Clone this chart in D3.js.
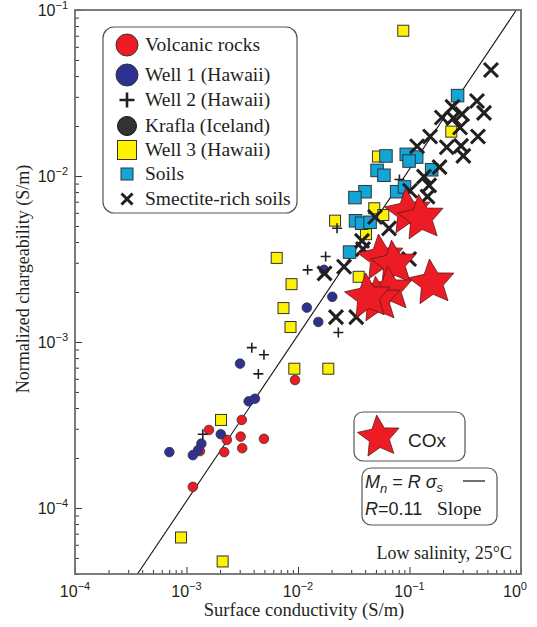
<!DOCTYPE html>
<html><head><meta charset="utf-8">
<script src="https://cdn.jsdelivr.net/npm/d3@7"></script>
<style>body{margin:0;background:#fff}</style>
</head><body>
<svg id="c" width="537" height="627"></svg>
<script>
// ---------- DATA: [surface conductivity (S/m), normalized chargeability (S/m)] ----------
const volcanicRocks = [[0.0094,5.9e-4],[3.13e-3,3.39e-4],[1.59e-3,2.95e-4],[2.30e-3,2.57e-4],[3.06e-3,2.69e-4],
  [4.95e-3,2.61e-4],[2.18e-3,2.17e-4],[3.16e-3,2.29e-4],[1.32e-3,2.20e-4],[1.14e-3,1.34e-4]];
const well1 = [[3.02e-3,7.40e-4],[3.61e-3,4.39e-4],[4.11e-3,4.55e-4],[2.03e-3,2.78e-4],[1.36e-3,2.44e-4],
  [1.27e-3,2.23e-4],[1.14e-3,2.08e-4],[7.02e-4,2.17e-4],[1.52e-2,1.32e-3],[2.03e-2,1.87e-3],
  [1.20e-2,1.61e-3],[1.71e-2,2.72e-3]];
const well2 = [[3.85e-3,9.24e-4],[4.95e-3,8.38e-4],[4.41e-3,6.42e-4],[1.40e-3,2.78e-4],[2.30e-2,1.14e-3],
  [1.77e-2,3.27e-3],[1.22e-2,2.72e-3],[2.24e-2,4.84e-3],[8.12e-2,9.52e-3]];
const krafla = [];
const well3 = [[8.79e-2,7.50e-2],[0.237,1.85e-2],[5.21e-2,1.31e-2],[4.83e-2,6.39e-3],[5.82e-2,5.82e-3],
  [2.15e-2,5.38e-3],[4.07e-2,4.46e-3],[6.44e-3,3.21e-3],[3.50e-2,2.47e-3],[8.75e-3,2.23e-3],
  [7.41e-3,1.60e-3],[8.57e-3,1.23e-3],[9.27e-3,6.90e-4],[1.87e-2,6.90e-4],[2.04e-3,3.39e-4],
  [8.93e-4,6.64e-5],[2.11e-3,4.76e-5]];
const soils = [[0.270,3.05e-2],[6.15e-2,1.32e-2],[9.35e-2,1.35e-2],[0.116,1.30e-2],[9.91e-2,1.23e-2],
  [5.12e-2,1.08e-2],[5.90e-2,1.01e-2],[0.158,1.09e-2],[3.99e-2,8.04e-3],[3.24e-2,7.41e-3],
  [7.67e-2,8.04e-3],[9.02e-2,8.59e-3],[3.28e-2,5.37e-3],[3.72e-2,5.19e-3],[4.43e-2,5.26e-3],
  [2.90e-2,3.48e-3]];
const smectiteSoils = [[0.538,4.35e-2],[0.403,2.83e-2],[0.466,2.40e-2],[0.243,2.61e-2],[0.195,2.25e-2],
  [0.247,2.23e-2],[0.296,2.36e-2],[0.284,1.96e-2],[0.153,1.73e-2],[0.117,1.51e-2],[0.216,1.49e-2],
  [0.290,1.52e-2],[0.304,1.32e-2],[0.411,1.73e-2],[0.186,1.13e-2],[0.135,9.91e-3],[0.150,8.77e-3],
  [0.145,7.50e-3],[0.101,8.15e-3],[4.91e-2,5.66e-3],[6.55e-2,4.84e-3],[3.75e-2,4.06e-3],
  [3.83e-2,3.63e-3],[2.59e-2,2.84e-3],[1.73e-2,2.59e-3],[9.91e-2,3.16e-3],[2.19e-2,1.41e-3],
  [3.33e-2,1.41e-3]];
const cox = [[9.70e-2,6.07e-3],[0.127,5.58e-3],[5.55e-2,3.21e-3],[7.26e-2,2.95e-3],[0.159,2.27e-3],
  [6.68e-2,2.06e-3],[5.21e-2,1.79e-3],[4.25e-2,1.87e-3]];
const fitR = 0.11;
const legendLabels = ["Volcanic rocks","Well 1 (Hawaii)","Well 2 (Hawaii)","Krafla (Iceland)","Well 3 (Hawaii)","Soils","Smectite-rich soils"];
const xTickValues = [1e-4,1e-3,1e-2,1e-1,1];
const xTickExps = ["\u22124","\u22123","\u22122","\u22121","0"];
const yTickValues = [1e-4,1e-3,1e-2,1e-1];
const yTickExps = ["\u22124","\u22123","\u22122","\u22121"];
const xTitle = "Surface conductivity (S/m)";
const yTitle = "Normalized chargeability (S/m)";

// ---------- COLOURS ----------
const RED="#ed1c24", NAVY="#2e3192", YEL="#fff200", CYAN="#12a6d8", DARK="#333", INK="#231f20";
const SERIF="'Liberation Serif','Times New Roman',serif", SANS="'Liberation Sans',Arial,sans-serif";

const svg = d3.select("#c");
const L=75, R=521, T=10, B=574;
const x = d3.scaleLog().domain([1e-4,1]).range([L,R]);
const y = d3.scaleLog().domain([4e-5,0.1]).range([B,T]);
const isPow = v => Math.abs(Math.log10(v)-Math.round(Math.log10(v)))<1e-6;

// ---------- AXES ----------
const xMinor = x.ticks().filter(v=>!isPow(v));
const yMinor = y.ticks().filter(v=>!isPow(v));
function styleAxis(g){ g.select(".domain").remove(); g.selectAll("line").attr("stroke",DARK).attr("stroke-width",1); g.selectAll("text").remove(); }
svg.append("g").attr("transform",`translate(0,${B})`).call(d3.axisBottom(x).tickValues(xTickValues).tickSizeInner(-7).tickSizeOuter(0)).call(styleAxis);
svg.append("g").attr("transform",`translate(0,${B})`).call(d3.axisBottom(x).tickValues(xMinor).tickSizeInner(-4).tickSizeOuter(0)).call(styleAxis);
svg.append("g").attr("transform",`translate(${L},0)`).call(d3.axisLeft(y).tickValues(yTickValues).tickSizeInner(-7).tickSizeOuter(0)).call(styleAxis);
svg.append("g").attr("transform",`translate(${L},0)`).call(d3.axisLeft(y).tickValues(yMinor).tickSizeInner(-4).tickSizeOuter(0)).call(styleAxis);

function powLabel(g, px, py, exp, anchor){
  const t=g.append("text").attr("x",px).attr("y",py).attr("text-anchor",anchor)
    .attr("font-family",SANS).attr("font-size",16).attr("fill",INK);
  t.append("tspan").text("10");
  t.append("tspan").attr("dy",-7).attr("font-size",11).text(exp);
}
const lab = svg.append("g");
xTickValues.forEach((v,i)=>powLabel(lab, x(v)+(i===4?-6:0), 597, xTickExps[i], "middle"));
yTickValues.forEach((v,i)=>powLabel(lab, 68, y(v)+6, yTickExps[i], "end"));

svg.append("text").attr("x",304).attr("y",616).attr("text-anchor","middle")
  .attr("font-family",SERIF).attr("font-size",18.5).attr("fill",INK).text(xTitle);
svg.append("text").attr("transform",`translate(29,279) rotate(-90)`).attr("text-anchor","middle")
  .attr("font-family",SERIF).attr("font-size",18).attr("fill",INK).text(yTitle);

// ---------- PLOT ----------
const plot = svg.append("g");
// fit line M = R*sigma
const xs0 = y.domain()[0]/fitR, xs1 = y.domain()[1]/fitR;
plot.append("line").attr("x1",x(xs0)).attr("y1",y(fitR*xs0)).attr("x2",x(xs1)).attr("y2",y(fitR*xs1))
  .attr("stroke","#111").attr("stroke-width",1.1);

function circles(data, fill, r){
  plot.append("g").selectAll("circle").data(data).join("circle")
    .attr("cx",d=>x(d[0])).attr("cy",d=>y(d[1])).attr("r",r)
    .attr("fill",fill).attr("stroke",DARK).attr("stroke-width",0.8);
}
function squares(data, fill, s){
  plot.append("g").selectAll("rect").data(data).join("rect")
    .attr("x",d=>x(d[0])-s/2).attr("y",d=>y(d[1])-s/2).attr("width",s).attr("height",s)
    .attr("fill",fill).attr("stroke",DARK).attr("stroke-width",1);
}
const plusPath = h => `M${-h},0H${h}M0,${-h}V${h}`;
const crossPath = h => `M${-h},${-h}L${h},${h}M${-h},${h}L${h},${-h}`;
function glyphs(data, path, w){
  plot.append("g").selectAll("path").data(data).join("path")
    .attr("transform",d=>`translate(${x(d[0])},${y(d[1])})`).attr("d",path)
    .attr("fill","none").attr("stroke",INK).attr("stroke-width",w);
}
function starPath(Ro, Ri, rot){
  const pts=[];
  for(let i=0;i<10;i++){ const a=(-90+rot+i*36)*Math.PI/180, r=i%2?Ri:Ro; pts.push([r*Math.cos(a), r*Math.sin(a)]); }
  return "M"+pts.map(p=>p.join(",")).join("L")+"Z";
}
circles(volcanicRocks, RED, 4.8);
circles(well1, NAVY, 4.8);
circles(krafla, DARK, 4.8);
squares(well3, YEL, 11);
glyphs(well2, plusPath(5), 1.6);
squares(soils, CYAN, 12.5);
glyphs(smectiteSoils, crossPath(7), 3.1);
plot.append("g").selectAll("path").data(cox).join("path")
  .attr("transform",d=>`translate(${x(d[0])},${y(d[1])})`).attr("d",starPath(24,11.5,-6))
  .attr("fill",RED).attr("stroke","#5a1a1a").attr("stroke-width",0.8);

// frame
svg.append("rect").attr("x",L).attr("y",T).attr("width",R-L).attr("height",B-T)
  .attr("fill","none").attr("stroke","#6d6e71").attr("stroke-width",1.8);

// ---------- LEGEND ----------
const lg = svg.append("g");
lg.append("rect").attr("x",103).attr("y",27).attr("width",194).attr("height",186).attr("rx",11)
  .attr("fill","#fff").attr("stroke","#555").attr("stroke-width",1.2);
const rowY=[45,75,100,126,150,174,199], mx=127;
lg.append("circle").attr("cx",mx).attr("cy",rowY[0]).attr("r",11).attr("fill",RED).attr("stroke",DARK).attr("stroke-width",1);
lg.append("circle").attr("cx",mx).attr("cy",rowY[1]).attr("r",11).attr("fill",NAVY).attr("stroke",DARK).attr("stroke-width",1);
lg.append("path").attr("transform",`translate(${mx},${rowY[2]})`).attr("d",plusPath(7.5)).attr("stroke",INK).attr("stroke-width",2.6);
lg.append("circle").attr("cx",mx).attr("cy",rowY[3]).attr("r",9.5).attr("fill",DARK).attr("stroke","#111").attr("stroke-width",1);
lg.append("rect").attr("x",mx-9.5).attr("y",rowY[4]-9.5).attr("width",19).attr("height",19).attr("fill",YEL).attr("stroke",DARK).attr("stroke-width",1);
lg.append("rect").attr("x",mx-6).attr("y",rowY[5]-6).attr("width",12).attr("height",12).attr("fill",CYAN).attr("stroke",DARK).attr("stroke-width",1);
lg.append("path").attr("transform",`translate(${mx},${rowY[6]})`).attr("d",crossPath(5.5)).attr("stroke",INK).attr("stroke-width",3);
lg.selectAll("text.l").data(legendLabels).join("text").attr("class","l")
  .attr("x",145).attr("y",(d,i)=>rowY[i]+6).attr("font-family",SERIF).attr("font-size",19.5).attr("fill",INK).text(d=>d);

// COx box
const cb = svg.append("g");
cb.append("rect").attr("x",354).attr("y",412).attr("width",111).attr("height",49).attr("rx",9)
  .attr("fill","#fff").attr("stroke","#555").attr("stroke-width",1.2);
cb.append("path").attr("transform","translate(379,437)").attr("d",starPath(22,10.5,-6))
  .attr("fill",RED).attr("stroke","#5a1a1a").attr("stroke-width",0.8);
cb.append("text").attr("x",408).attr("y",447).attr("font-family",SANS).attr("font-size",19).attr("fill",INK).text("COx");

// Equation box
const eb = svg.append("g");
eb.append("rect").attr("x",362).attr("y",468).attr("width",135).attr("height",57).attr("rx",9)
  .attr("fill","#fff").attr("stroke","#555").attr("stroke-width",1.2);
const e1 = eb.append("text").attr("x",365).attr("y",488).attr("font-family",SANS).attr("font-size",18).attr("fill",INK);
e1.append("tspan").attr("font-style","italic").text("M");
e1.append("tspan").attr("font-style","italic").attr("font-size",13).attr("dy",5).text("n");
e1.append("tspan").attr("dy",-5).text(" = ");
e1.append("tspan").attr("font-style","italic").text("R σ");
e1.append("tspan").attr("font-style","italic").attr("font-size",13).attr("dy",4).text("s");
eb.append("line").attr("x1",463).attr("x2",485).attr("y1",481).attr("y2",481).attr("stroke","#111").attr("stroke-width",1.2);
const e2 = eb.append("text").attr("y",515).attr("font-family",SANS).attr("font-size",18).attr("fill",INK);
e2.append("tspan").attr("x",365).attr("font-style","italic").text("R");
e2.append("tspan").text("=0.11");
e2.append("tspan").attr("x",437).attr("font-family",SERIF).attr("font-size",19.5).text("Slope");

svg.append("text").attr("x",512).attr("y",559).attr("text-anchor","end").attr("font-family",SERIF)
  .attr("font-size",18).attr("fill",INK).text("Low salinity, 25°C");
</script>
</body></html>
